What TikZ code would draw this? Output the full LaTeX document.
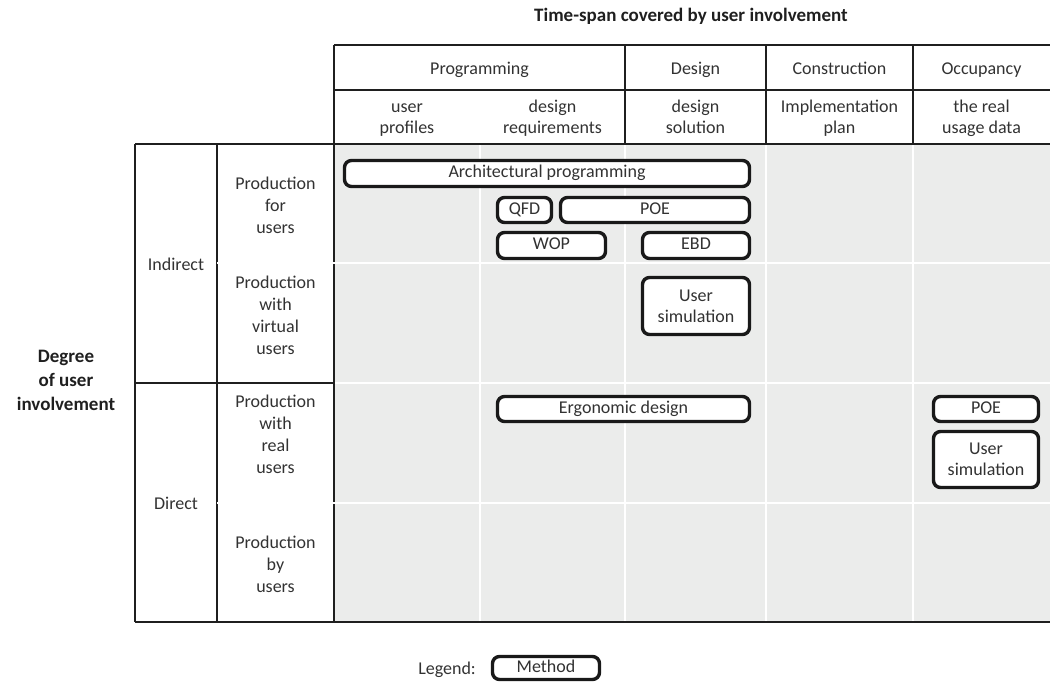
\documentclass[tikz,border=0pt]{standalone}
\usepackage{fontspec}
\setmainfont{Carlito}
\definecolor{cellgray}{RGB}{235,236,235}
\definecolor{ink}{RGB}{50,50,50}
\begin{document}
\begin{tikzpicture}[x=1pt,y=-1pt,
  rule/.style={line width=2.2pt, black!88},
  gap/.style={line width=2pt, white},
  txt/.style={align=center, inner sep=0pt, anchor=base, text=ink, font=\fontsize{18}{21}\selectfont},
  rowtxt/.style={txt, font=\fontsize{18}{22}\selectfont},
  heading/.style={align=center, inner sep=0pt, text=black!88, font=\bfseries\fontsize{19}{24}\selectfont},
  method/.style={draw=black!90, line width=3.4pt, rounded corners=7pt, fill=white,
                 inner sep=0pt, align=center, text=ink, font=\fontsize{18}{21}\selectfont},
  oneline/.style={text height=12.5pt, text depth=4pt}]
\useasboundingbox (0,0) rectangle (1050,683);

% shaded matrix area
\fill[cellgray] (334,144) rectangle (1050,622);
\foreach \x in {480,625,766,913} \draw[gap] (\x,144) -- (\x,621);
\draw[gap] (335,383) -- (1050,383);

% header table
\draw[rule] (334,45) -- (1050,45);
\draw[rule] (334,90) -- (1050,90);
\draw[rule] (334,144) -- (1050,144);
\foreach \x in {625,766,913} \draw[rule] (\x,45) -- (\x,144);

% row header table
\draw[rule] (135,144) -- (334,144);
\draw[rule] (135,144) -- (135,622);
\draw[rule] (217,144) -- (217,622);
\draw[rule] (334,45) -- (334,622);
\draw[rule] (135,383) -- (334,383);
\draw[rule] (135,622) -- (1050,622);

% breaks between sub-rows
\draw[gap] (217,263) -- (1050,263);
\draw[gap] (217,503) -- (1050,503);

% titles
\node[heading] (ttime) at (691,16) {Time-span covered by user involvement};
\node[heading] (tdeg) at (66,380) {Degree\\of user\\involvement};

% column headers (base = baseline of the last line)
\node[txt] (hprog) at (479.5,74) {Programming};
\node[txt] (hdes) at (695.5,74) {Design};
\node[txt] (hcon) at (839.5,74) {Construction};
\node[txt] (hocc) at (981.5,74) {Occupancy};
\node[txt] (suser) at (407,133) {user\\profiles};
\node[txt] (sreq) at (552.5,133) {design\\requirements};
\node[txt] (ssol) at (695.5,133) {design\\solution};
\node[txt] (splan) at (839.5,133) {Implementation\\plan};
\node[txt] (sdata) at (981.5,133) {the real\\usage data};

% row headers
\node[txt] (rind) at (176,270) {Indirect};
\node[txt] (rdir) at (176,509) {Direct};
\node[rowtxt] (rfor) at (275.5,233) {Production\\for\\users};
\node[rowtxt] (rvirt) at (275.5,354) {Production\\with\\virtual\\users};
\node[rowtxt] (rreal) at (275.5,473) {Production\\with\\real\\users};
\node[rowtxt] (rby) at (275.5,592) {Production\\by\\users};

% methods
\node[method, oneline, minimum width=405pt, minimum height=26pt] (arch) at (547,173.5) {Architectural programming};
\node[method, oneline, minimum width=54pt, minimum height=25pt] (qfd) at (524.5,210) {QFD};
\node[method, oneline, minimum width=189pt, minimum height=25pt] (poea) at (655,210) {POE};
\node[method, oneline, minimum width=108pt, minimum height=26pt] (wop) at (551.5,245.5) {WOP};
\node[method, oneline, minimum width=107pt, minimum height=26pt] (ebd) at (696,245.5) {EBD};
\node[method, minimum width=107pt, minimum height=57pt] (usima) at (696,306) {User\\simulation};
\node[method, oneline, minimum width=252pt, minimum height=25pt] (ergo) at (623.5,409) {Ergonomic design};
\node[method, oneline, minimum width=105pt, minimum height=25pt] (poeb) at (986,409) {POE};
\node[method, minimum width=105pt, minimum height=56pt] (usimb) at (986,459.5) {User\\simulation};

% legend
\node[txt, anchor=base east] (leg) at (476,674) {Legend:};
\node[method, oneline, minimum width=107pt, minimum height=23pt] (legbox) at (546,668) {Method};
\end{tikzpicture}
\end{document}
